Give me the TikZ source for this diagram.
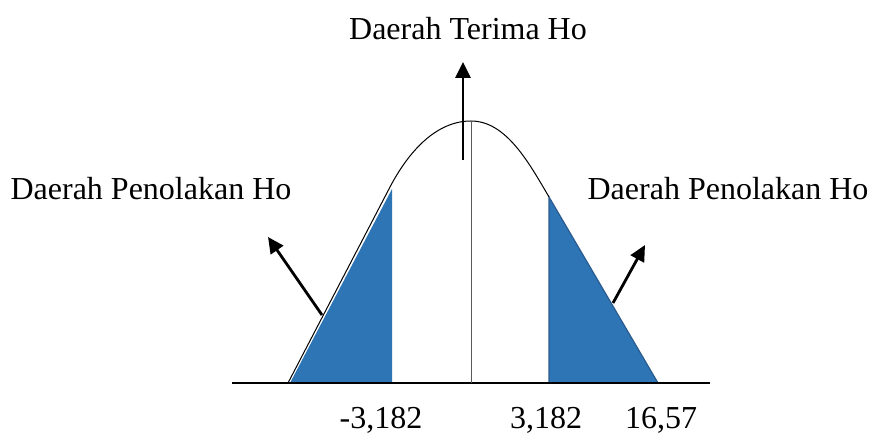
\documentclass[tikz,border=0pt]{standalone}
\usepackage{fontspec}
\setmainfont{Liberation Serif}
\usepackage{xcolor}
\usetikzlibrary{arrows.meta,positioning,calc}
\definecolor{rgblue}{HTML}{2E75B6}
\definecolor{rgedge}{HTML}{2A5B8E}
\begin{document}
\begin{tikzpicture}[
  x=0.5pt,y=-0.5pt,
  cv/.style={line width=0.5pt,black},
  ax/.style={line width=0.7pt,black},
  rg/.style={fill=rgblue,draw=none},
  rr/.style={fill=rgblue,draw=rgedge,line width=0.6pt},
  ar/.style={line width=1.4pt,-{Triangle[length=8pt,width=7.5pt]}},
  lb/.style={font=\fontsize{16}{18}\selectfont,inner sep=0pt,anchor=base}
]
\useasboundingbox (0,0) rectangle (872,437);
%--- shaded rejection regions ---
\fill[rg] (290,383) -- (392,189) -- (392,383) -- cycle;
\filldraw[rr] (549,197) -- (658,383) -- (549,383) -- cycle;
%--- axis and curve ---
\draw[ax] (232,383) -- (710,383);
\draw[cv] (288,383) -- (390,187)
  .. controls (408.6,151.6) and (436,121) .. (471,121)
  .. controls (506,121) and (528.8,162.5) .. (549,197);
\draw[cv,gray!70!black] (471,121) -- (471,383);
%--- labels ---
\node[lb] (acc) at (468,40) {Daerah Terima Ho};
\node[lb] (rejl) at (151,200) {Daerah Penolakan Ho};
\node[lb] (rejr) at (728,200) {Daerah Penolakan Ho};
\node[lb] (tl) at (381,429) {-3,182};
\node[lb] (tr) at (546,429) {3,182};
\node[lb] (tc) at (661,429) {16,57};
%--- arrows ---
\coordinate (accs) at (463,160); \coordinate (acce) at (463,62);
\coordinate (ls) at (322,315);   \coordinate (le) at (268,237);
\coordinate (rs) at (613,303);   \coordinate (re) at (645,245);
\draw[ar] (accs) -- (acce);
\draw[ar] (ls) -- (le);
\draw[ar] (rs) -- (re);
\end{tikzpicture}
\end{document}
